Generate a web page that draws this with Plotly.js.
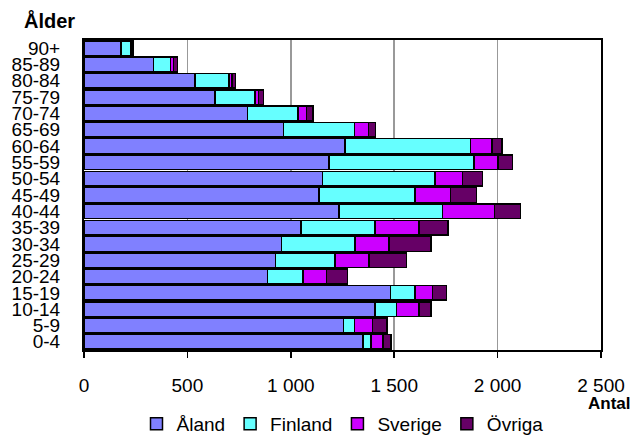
<!DOCTYPE html>
<html>
<head>
<meta charset="utf-8">
<script src="https://cdn.plot.ly/plotly-3.0.1.min.js"></script>
<style>html,body{margin:0;padding:0;background:#fff;}#chart{width:635px;height:443px;}</style>
</head>
<body>
<div id="chart"></div>
<script>
// Age groups (bottom to top)
const ageGroups = ['0-4','5-9','10-14','15-19','20-24','25-29','30-34','35-39','40-44','45-49','50-54','55-59','60-64','65-69','70-74','75-79','80-84','85-89','90+'];
// Population by birthplace
const aland   = [1348,1254,1407,1483, 888, 927, 956,1049,1233,1136,1154,1185,1262, 964, 790, 633, 537, 335, 179];
const finland = [  40,  53, 105, 118, 170, 286, 354, 358, 501, 465, 543, 701, 607, 343, 246, 194, 164,  84,  47];
const sverige = [  57,  89, 108,  85, 115, 165, 165, 213, 250, 172, 134, 117, 105,  68,  41,  16,  15,  13,   4];
const ovriga  = [  40,  70,  58,  68, 100, 182, 203, 141, 127, 126,  97,  70,  48,  34,  30,  24,  17,  21,   8];
const seriesNames = ['Åland','Finland','Sverige','Övriga'];
const seriesColors = ['#8080FF','#66FFFF','#CC00FF','#660066'];
const seriesValues = [aland, finland, sverige, ovriga];

const traces = seriesNames.map((name, i) => ({
  type: 'bar',
  orientation: 'h',
  name: name,
  y: ageGroups,
  x: seriesValues[i],
  marker: {color: seriesColors[i], line: {color: '#000', width: 1.5}},
  hoverinfo: 'skip'
}));

const fontFam = '"Liberation Sans", Arial, sans-serif';
const layout = {
  width: 635, height: 443,
  margin: {l: 84, r: 34, t: 40, b: 93, pad: 0},
  barmode: 'stack',
  bargap: 0.1,
  paper_bgcolor: '#fff',
  plot_bgcolor: '#fff',
  separators: ', ',
  font: {family: fontFam, size: 19, color: '#000'},
  showlegend: true,
  legend: {
    orientation: 'h', xref: 'paper', x: 0.5, xanchor: 'center',
    yref: 'container', y: 0, yanchor: 'bottom',
    traceorder: 'normal', font: {family: fontFam, size: 19, color: '#000'},
    itemwidth: 30, itemclick: false, itemdoubleclick: false
  },
  xaxis: {
    range: [0, 2500], dtick: 500, tick0: 0,
    separatethousands: true,
    showgrid: true, gridcolor: '#999', gridwidth: 1.5,
    zeroline: false,
    showline: true, linecolor: '#000', linewidth: 2, mirror: true,
    ticks: 'outside', ticklen: 6, tickcolor: '#000', tickwidth: 1.5,
    ticklabelstandoff: 11,
    tickfont: {family: fontFam, size: 19, color: '#000'},
    automargin: false,
    fixedrange: true
  },
  yaxis: {
    type: 'category',
    tickmode: 'linear', tick0: 0, dtick: 1,
    showgrid: false, zeroline: false,
    showline: true, linecolor: '#000', linewidth: 2, mirror: true,
    ticks: '',
    ticklabelstandoff: 18,
    tickfont: {family: fontFam, size: 19, color: '#000'},
    automargin: false,
    fixedrange: true
  },
  annotations: [
    {text: '<b>Ålder</b>', xref: 'paper', yref: 'paper', x: 0, y: 1, xanchor: 'left', yanchor: 'bottom',
     xshift: -62, yshift: 6, showarrow: false, font: {family: fontFam, size: 20, color: '#000'}},
    {text: '<b>Antal</b>', xref: 'paper', yref: 'paper', x: 1, y: 0, xanchor: 'right', yanchor: 'top',
     xshift: 32, yshift: -42, showarrow: false, font: {family: fontFam, size: 17, color: '#000'}}
  ]
};

Plotly.newPlot('chart', traces, layout, {displayModeBar: false, staticPlot: true});
</script>
</body>
</html>
